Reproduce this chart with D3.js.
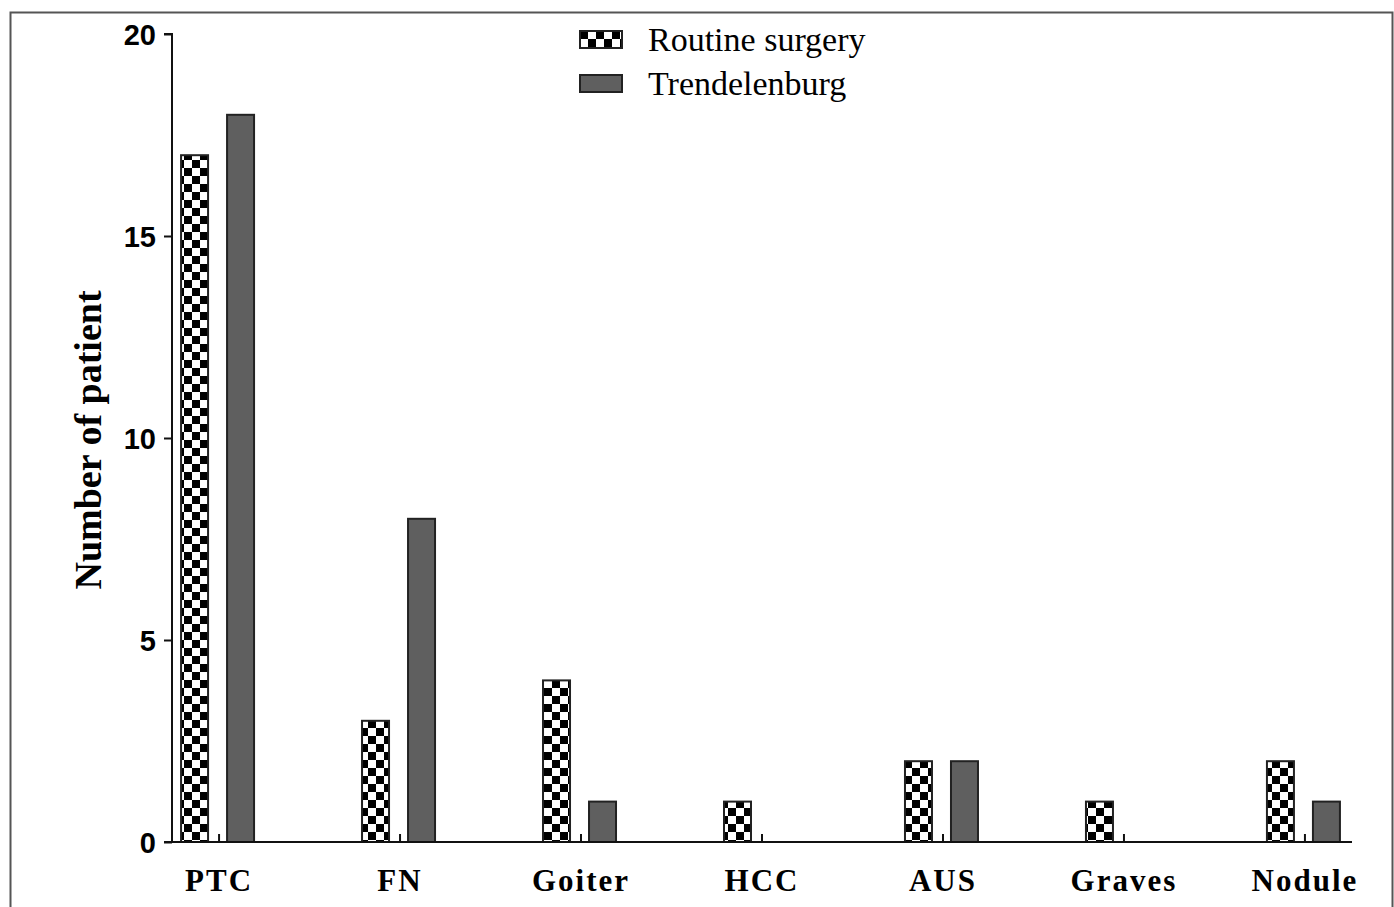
<!DOCTYPE html>
<html>
<head>
<meta charset="utf-8">
<script src="https://cdn.jsdelivr.net/npm/d3@7"></script>
<style>
  body { margin: 0; background: #fff; }
  svg { display: block; }
</style>
</head>
<body>
<div id="chart"></div>
<script>
// values
var categories = ["PTC", "FN", "Goiter", "HCC", "AUS", "Graves", "Nodule"];
var routine = [17, 3, 4, 1, 2, 1, 2];
var trendelenburg = [18, 8, 1, 0, 2, 0, 1];
var seriesNames = ["Routine surgery", "Trendelenburg"];
var yTicks = [0, 5, 10, 15, 20];

var svgWidth = 1394, svgHeight = 907;
var svg = d3.select("#chart").append("svg")
    .attr("width", svgWidth)
    .attr("height", svgHeight);

// checker pattern for routine surgery
var defs = svg.append("defs");
var pat = defs.append("pattern")
    .attr("id", "checker")
    .attr("patternUnits", "userSpaceOnUse")
    .attr("width", 16).attr("height", 16);
pat.append("rect").attr("width", 16).attr("height", 16).attr("fill", "#fff");
pat.append("rect").attr("width", 8).attr("height", 8).attr("fill", "#000");
pat.append("rect").attr("x", 8).attr("y", 8).attr("width", 8).attr("height", 8).attr("fill", "#000");

// outer frame
svg.append("rect")
    .attr("x", 10.5).attr("y", 12.5)
    .attr("width", 1382).attr("height", 920)
    .attr("fill", "none")
    .attr("stroke", "#555")
    .attr("stroke-width", 2);

var margin = { left: 172, right: 1352, top: 34, bottom: 842 };

var x = d3.scalePoint()
    .domain(categories)
    .range([margin.left, margin.right])
    .padding(0.26);

var y = d3.scaleLinear()
    .domain([0, 20])
    .range([margin.bottom, margin.top]);

var barW = 27;
var g = svg.append("g");

// bars
var bars = categories.map(function(c, i) {
    return [
        { cat: c, v: routine[i], off: -38, fill: "url(#checker)" },
        { cat: c, v: trendelenburg[i], off: 8, fill: "#5f5f5f" }
    ];
}).flat().filter(function(d) { return d.v > 0; });

g.selectAll("rect.bar")
    .data(bars)
    .enter().append("rect")
    .attr("class", "bar")
    .attr("x", function(d) { return x(d.cat) + d.off; })
    .attr("y", function(d) { return y(d.v); })
    .attr("width", barW)
    .attr("height", function(d) { return y(0) - y(d.v); })
    .attr("fill", function(d) { return d.fill; })
    .attr("stroke", "#222")
    .attr("stroke-width", 2);

// y axis
var yAxis = d3.axisLeft(y).tickValues(yTicks).tickSize(8).tickPadding(8).tickFormat(d3.format("d"));
var yg = svg.append("g")
    .attr("transform", "translate(" + margin.left + ",0)")
    .call(yAxis);
yg.select(".domain").attr("stroke", "#111").attr("stroke-width", 2)
    .attr("d", "M-8," + y(20) + "H0V" + y(0));
yg.selectAll(".tick line").attr("stroke", "#111").attr("stroke-width", 2);
yg.selectAll(".tick text")
    .attr("font-family", "'Liberation Sans', Arial, sans-serif")
    .attr("font-weight", "bold")
    .attr("font-size", 29)
    .attr("fill", "#000")
    .attr("dy", "0.36em");

// x axis with small upward ticks
var xg = svg.append("g")
    .attr("transform", "translate(0," + margin.bottom + ")");
xg.append("line")
    .attr("x1", margin.left - 8).attr("x2", margin.right)
    .attr("stroke", "#111").attr("stroke-width", 2);
xg.selectAll("line.tick")
    .data(categories)
    .enter().append("line")
    .attr("class", "tick")
    .attr("x1", function(d) { return x(d); })
    .attr("x2", function(d) { return x(d); })
    .attr("y1", 0).attr("y2", -8)
    .attr("stroke", "#111").attr("stroke-width", 2);
xg.selectAll("text")
    .data(categories)
    .enter().append("text")
    .attr("x", function(d) { return x(d); })
    .attr("y", 49)
    .attr("text-anchor", "middle")
    .attr("font-family", "'Liberation Serif', 'Times New Roman', serif")
    .attr("font-weight", "bold")
    .attr("font-size", 31)
    .attr("letter-spacing", 2)
    .text(function(d) { return d; });

// y axis title
svg.append("text")
    .attr("transform", "translate(101,440) rotate(-90)")
    .attr("text-anchor", "middle")
    .attr("font-family", "'Liberation Serif', 'Times New Roman', serif")
    .attr("font-weight", "bold")
    .attr("font-size", 38)
    .text("Number of patient");

// legend
var legend = svg.append("g").attr("transform", "translate(580,31)");
var legItems = legend.selectAll("g")
    .data(seriesNames)
    .enter().append("g")
    .attr("transform", function(d, i) { return "translate(0," + (i * 44) + ")"; });
legItems.append("rect")
    .attr("width", 42).attr("height", 17)
    .attr("fill", function(d, i) { return i === 0 ? "url(#checker)" : "#5f5f5f"; })
    .attr("stroke", "#222")
    .attr("stroke-width", 2);
legItems.append("text")
    .attr("x", 68).attr("y", 20)
    .attr("font-family", "'Liberation Serif', 'Times New Roman', serif")
    .attr("font-size", 34)
    .text(function(d) { return d; });
</script>
</body>
</html>
